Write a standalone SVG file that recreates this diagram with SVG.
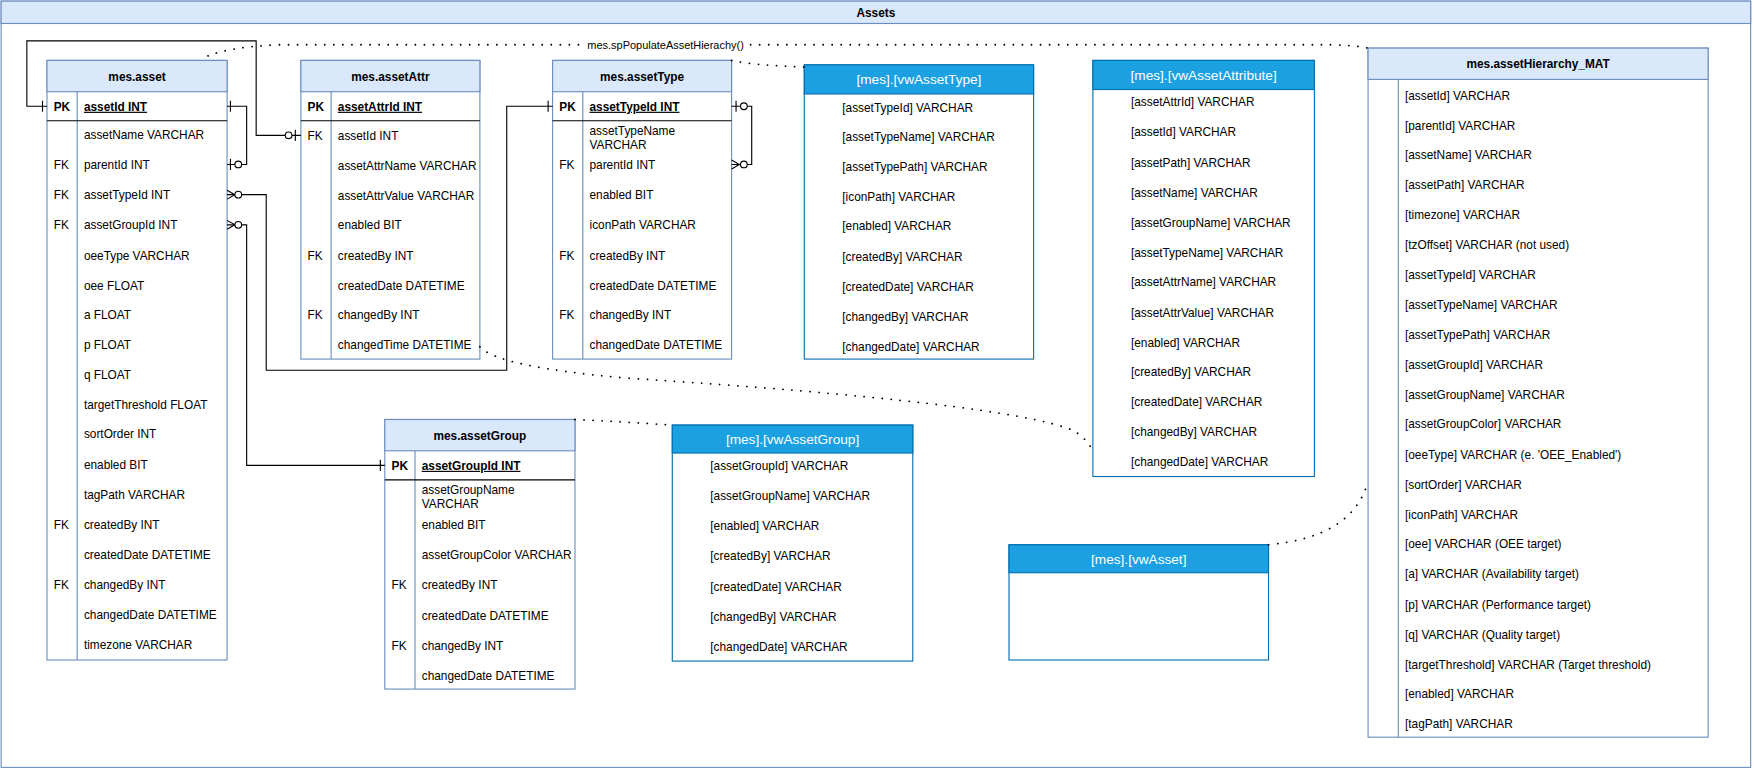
<svg xmlns="http://www.w3.org/2000/svg" width="1754" height="769" viewBox="0 0 1754 769">
<style>
text{font-family:"Liberation Sans",Arial,sans-serif;font-size:10.6px;fill:#000}
.h{font-weight:bold;text-anchor:middle}
.pk{font-weight:bold;text-decoration:underline}
.b{font-weight:bold}
.vh{fill:#fff;font-size:12.2px;text-anchor:middle}
.tb{fill:#fff;stroke:#6C8EBF;stroke-width:1}
.th{fill:#DAE8FC;stroke:#6C8EBF;stroke-width:1}
.vb{fill:#fff;stroke:#006EAF;stroke-width:1}
.vhd{fill:#1BA1E2;stroke:#006EAF;stroke-width:1}
.dv{stroke:#6C8EBF;stroke-width:1}
.sep{stroke:#000;stroke-width:1}
.c{fill:none;stroke:#000;stroke-width:1}
.r{fill:#fff;stroke:#000;stroke-width:1}
.d{fill:none;stroke:#000;stroke-width:1.6;stroke-dasharray:0.1 8;stroke-linecap:round}
</style>
<rect width="1754" height="769" fill="#fff"/>
<g transform="scale(1.11862)">
<g id="frame">
<rect x="1" y="1" width="1564" height="685" class="tb"/>
<rect x="1" y="1" width="1564" height="20" class="th"/>
<text x="783" y="15" class="h">Assets</text>
</g>

<g id="asset">
<rect x="42" y="54" width="161" height="536" class="tb"/>
<rect x="42" y="54" width="161" height="28" class="th"/>
<text x="122.5" y="72" class="h">mes.asset</text>
<line x1="69" y1="82" x2="69" y2="590" class="dv"/>
<line x1="42" y1="108" x2="203" y2="108" class="sep"/>
<text x="48" y="99" class="b">PK</text><text x="75" y="99" class="pk">assetId INT</text>
<text x="75" y="124">assetName VARCHAR</text>
<text x="48" y="151">FK</text><text x="75" y="151">parentId INT</text>
<text x="48" y="178">FK</text><text x="75" y="178">assetTypeId INT</text>
<text x="48" y="205">FK</text><text x="75" y="205">assetGroupId INT</text>
<text x="75" y="232">oeeType VARCHAR</text>
<text x="75" y="259">oee FLOAT</text>
<text x="75" y="285">a FLOAT</text>
<text x="75" y="312">p FLOAT</text>
<text x="75" y="339">q FLOAT</text>
<text x="75" y="366">targetThreshold FLOAT</text>
<text x="75" y="392">sortOrder INT</text>
<text x="75" y="419">enabled BIT</text>
<text x="75" y="446">tagPath VARCHAR</text>
<text x="48" y="473">FK</text><text x="75" y="473">createdBy INT</text>
<text x="75" y="500">createdDate DATETIME</text>
<text x="48" y="527">FK</text><text x="75" y="527">changedBy INT</text>
<text x="75" y="553">changedDate DATETIME</text>
<text x="75" y="580">timezone VARCHAR</text>
</g>

<g id="assetAttr">
<rect x="269" y="54" width="160" height="267" class="tb"/>
<rect x="269" y="54" width="160" height="28" class="th"/>
<text x="349" y="72" class="h">mes.assetAttr</text>
<line x1="296" y1="82" x2="296" y2="321" class="dv"/>
<line x1="269" y1="108" x2="429" y2="108" class="sep"/>
<text x="275" y="99" class="b">PK</text><text x="302" y="99" class="pk">assetAttrId INT</text>
<text x="275" y="125">FK</text><text x="302" y="125">assetId INT</text>
<text x="302" y="152">assetAttrName VARCHAR</text>
<text x="302" y="179">assetAttrValue VARCHAR</text>
<text x="302" y="205">enabled BIT</text>
<text x="275" y="232">FK</text><text x="302" y="232">createdBy INT</text>
<text x="302" y="259">createdDate DATETIME</text>
<text x="275" y="285">FK</text><text x="302" y="285">changedBy INT</text>
<text x="302" y="312">changedTime DATETIME</text>
</g>

<g id="assetType">
<rect x="494" y="54" width="160" height="267" class="tb"/>
<rect x="494" y="54" width="160" height="28" class="th"/>
<text x="574" y="72" class="h">mes.assetType</text>
<line x1="521" y1="82" x2="521" y2="321" class="dv"/>
<line x1="494" y1="108" x2="654" y2="108" class="sep"/>
<text x="500" y="99" class="b">PK</text><text x="527" y="99" class="pk">assetTypeId INT</text>
<text x="527" y="121">assetTypeName</text><text x="527" y="133">VARCHAR</text>
<text x="500" y="151">FK</text><text x="527" y="151">parentId INT</text>
<text x="527" y="178">enabled BIT</text>
<text x="527" y="205">iconPath VARCHAR</text>
<text x="500" y="232">FK</text><text x="527" y="232">createdBy INT</text>
<text x="527" y="259">createdDate DATETIME</text>
<text x="500" y="285">FK</text><text x="527" y="285">changedBy INT</text>
<text x="527" y="312">changedDate DATETIME</text>
</g>

<g id="assetGroup">
<rect x="344" y="375" width="170" height="241" class="tb"/>
<rect x="344" y="375" width="170" height="28" class="th"/>
<text x="429" y="393" class="h">mes.assetGroup</text>
<line x1="371" y1="403" x2="371" y2="616" class="dv"/>
<line x1="344" y1="429" x2="514" y2="429" class="sep"/>
<text x="350" y="420" class="b">PK</text><text x="377" y="420" class="pk">assetGroupId INT</text>
<text x="377" y="442">assetGroupName</text><text x="377" y="454">VARCHAR</text>
<text x="377" y="473">enabled BIT</text>
<text x="377" y="500">assetGroupColor VARCHAR</text>
<text x="350" y="527">FK</text><text x="377" y="527">createdBy INT</text>
<text x="377" y="554">createdDate DATETIME</text>
<text x="350" y="581">FK</text><text x="377" y="581">changedBy INT</text>
<text x="377" y="608">changedDate DATETIME</text>
</g>

<g id="vwAssetType">
<rect x="719" y="58" width="205" height="263" class="vb"/>
<rect x="719" y="58" width="205" height="26" class="vhd"/>
<text x="821.5" y="75.5" class="vh">[mes].[vwAssetType]</text>
<text x="753" y="100">[assetTypeId] VARCHAR</text>
<text x="753" y="126">[assetTypeName] VARCHAR</text>
<text x="753" y="153">[assetTypePath] VARCHAR</text>
<text x="753" y="180">[iconPath] VARCHAR</text>
<text x="753" y="206">[enabled] VARCHAR</text>
<text x="753" y="233">[createdBy] VARCHAR</text>
<text x="753" y="260">[createdDate] VARCHAR</text>
<text x="753" y="287">[changedBy] VARCHAR</text>
<text x="753" y="314">[changedDate] VARCHAR</text>
</g>

<g id="vwAssetAttribute">
<rect x="977" y="54" width="198" height="372" class="vb"/>
<rect x="977" y="54" width="198" height="26" class="vhd"/>
<text x="1076" y="71.5" class="vh">[mes].[vwAssetAttribute]</text>
<text x="1011" y="95">[assetAttrId] VARCHAR</text>
<text x="1011" y="122">[assetId] VARCHAR</text>
<text x="1011" y="149">[assetPath] VARCHAR</text>
<text x="1011" y="176">[assetName] VARCHAR</text>
<text x="1011" y="203">[assetGroupName] VARCHAR</text>
<text x="1011" y="230">[assetTypeName] VARCHAR</text>
<text x="1011" y="256">[assetAttrName] VARCHAR</text>
<text x="1011" y="283">[assetAttrValue] VARCHAR</text>
<text x="1011" y="310">[enabled] VARCHAR</text>
<text x="1011" y="336">[createdBy] VARCHAR</text>
<text x="1011" y="363">[createdDate] VARCHAR</text>
<text x="1011" y="390">[changedBy] VARCHAR</text>
<text x="1011" y="417">[changedDate] VARCHAR</text>
</g>

<g id="vwAssetGroup">
<rect x="601" y="380" width="215" height="211" class="vb"/>
<rect x="601" y="380" width="215" height="25" class="vhd"/>
<text x="708.5" y="397" class="vh">[mes].[vwAssetGroup]</text>
<text x="635" y="420">[assetGroupId] VARCHAR</text>
<text x="635" y="447">[assetGroupName] VARCHAR</text>
<text x="635" y="474">[enabled] VARCHAR</text>
<text x="635" y="501">[createdBy] VARCHAR</text>
<text x="635" y="528">[createdDate] VARCHAR</text>
<text x="635" y="555">[changedBy] VARCHAR</text>
<text x="635" y="582">[changedDate] VARCHAR</text>
</g>

<g id="vwAsset">
<rect x="902" y="487" width="232" height="103" class="vb"/>
<rect x="902" y="487" width="232" height="25" class="vhd"/>
<text x="1018" y="504" class="vh">[mes].[vwAsset]</text>
</g>

<g id="assetHierarchy_MAT">
<rect x="1223" y="43" width="304" height="616" class="tb"/>
<rect x="1223" y="43" width="304" height="28" class="th"/>
<text x="1375" y="61" class="h">mes.assetHierarchy_MAT</text>
<line x1="1250" y1="71" x2="1250" y2="659" class="dv"/>
<text x="1256" y="89">[assetId] VARCHAR</text>
<text x="1256" y="116">[parentId] VARCHAR</text>
<text x="1256" y="142">[assetName] VARCHAR</text>
<text x="1256" y="169">[assetPath] VARCHAR</text>
<text x="1256" y="196">[timezone] VARCHAR</text>
<text x="1256" y="223">[tzOffset] VARCHAR (not used)</text>
<text x="1256" y="249">[assetTypeId] VARCHAR</text>
<text x="1256" y="276">[assetTypeName] VARCHAR</text>
<text x="1256" y="303">[assetTypePath] VARCHAR</text>
<text x="1256" y="330">[assetGroupId] VARCHAR</text>
<text x="1256" y="357">[assetGroupName] VARCHAR</text>
<text x="1256" y="383">[assetGroupColor] VARCHAR</text>
<text x="1256" y="410">[oeeType] VARCHAR (e. 'OEE_Enabled')</text>
<text x="1256" y="437">[sortOrder] VARCHAR</text>
<text x="1256" y="464">[iconPath] VARCHAR</text>
<text x="1256" y="490">[oee] VARCHAR (OEE target)</text>
<text x="1256" y="517">[a] VARCHAR (Availability target)</text>
<text x="1256" y="544">[p] VARCHAR (Performance target)</text>
<text x="1256" y="571">[q] VARCHAR (Quality target)</text>
<text x="1256" y="598">[targetThreshold] VARCHAR (Target threshold)</text>
<text x="1256" y="624">[enabled] VARCHAR</text>
<text x="1256" y="651">[tagPath] VARCHAR</text>
</g>

<g id="connectors">
<path d="M42,95 H24 V36.5 H229 V121 H269" class="c"/>
<path d="M38,90 V100 M264,116 V126" class="c"/>
<circle cx="258" cy="121" r="3" class="r"/>
<path d="M203,95 H220.5 V147 H203" class="c"/>
<path d="M206,90 V100 M206,142 V152" class="c"/>
<circle cx="213" cy="147" r="3" class="r"/>
<path d="M203,174 H238 V331 H453 V95 H494" class="c"/>
<path d="M203,170 L210,174 L203,178 M490,90 V100" class="c"/>
<circle cx="213" cy="174" r="3" class="r"/>
<path d="M203,201 H220.5 V416 H344" class="c"/>
<path d="M203,197 L210,201 L203,205 M340,411 V421" class="c"/>
<circle cx="213" cy="201" r="3" class="r"/>
<path d="M654,95 H672 V147 H654" class="c"/>
<path d="M658,90 V100 M654,143 L661,147 L654,151" class="c"/>
<circle cx="665" cy="95" r="3" class="r"/>
<circle cx="665" cy="147" r="3" class="r"/>
<path d="M186,50 Q205,42 250,40 L1190,40 Q1215,41 1223,43" class="d"/>
<rect x="522" y="33" width="146" height="14" fill="#fff"/>
<text x="595" y="44" style="text-anchor:middle;font-size:9.8px">mes.spPopulateAssetHierachy()</text>
<path d="M654,54 Q670,58 719,60" class="d"/>
<path d="M429,310 Q445,328 560,338 Q900,360 960,385 Q975,395 977,405" class="d"/>
<path d="M514,375 Q540,376 601,380" class="d"/>
<path d="M1134,487 Q1210,480 1223,430" class="d"/>
</g>
</g>
</svg>
